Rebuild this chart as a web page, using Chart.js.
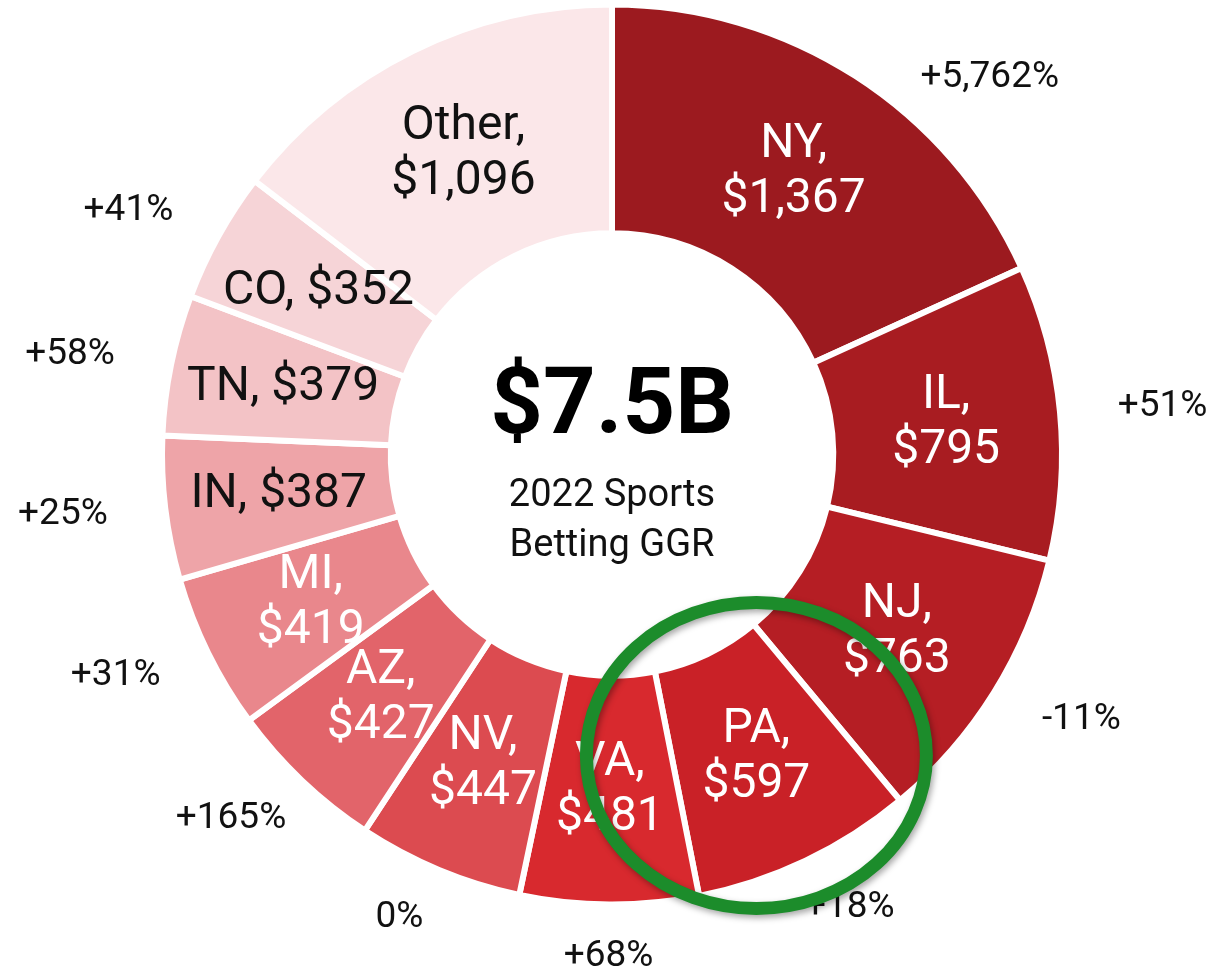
<!DOCTYPE html>
<html>
<head>
<meta charset="utf-8">
<title>2022 Sports Betting GGR</title>
<script src="https://cdn.jsdelivr.net/npm/chart.js@4.4.0/dist/chart.umd.min.js"></script>
<style>
  body { margin: 0; background: #fff; }
  #wrap { width: 1212px; height: 969px; }
</style>
</head>
<body>
<div id="wrap"><canvas id="ggr-chart" width="1212" height="969"></canvas></div>
<script>
// 2022 sports betting GGR by state ($M), clockwise from 12 o'clock
const states = ["NY", "IL", "NJ", "PA", "VA", "NV", "AZ", "MI", "IN", "TN", "CO", "Other"];
const ggr = [1367, 795, 763, 597, 481, 447, 427, 419, 387, 379, 352, 1096];
const growth = ["+5,762%", "+51%", "-11%", "+18%", "+68%", "0%", "+165%", "+31%", "+25%", "+58%", "+41%", ""];
const sliceColors = ["#9c1a1f", "#a81c21", "#b51e24", "#c92127", "#d8292e", "#dc4b50", "#e2646a", "#e9878c", "#eea4a8", "#f3c3c6", "#f6d4d7", "#fbe7e9"];
const singleLine = ["IN", "TN", "CO"];   // short labels that fit on one line
const highlight = "PA";                   // circled in green
const centerTitle = "$7.5B";
const centerSub = ["2022 Sports", "Betting GGR"];

const FONT = "Roboto, 'Liberation Sans', sans-serif";

// pick black or white text for a slice colour
function isLight(hex) {
    const r = parseInt(hex.slice(1, 3), 16);
    const g = parseInt(hex.slice(3, 5), 16);
    const b = parseInt(hex.slice(5, 7), 16);
    return (0.299 * r + 0.587 * g + 0.114 * b) > 165;
}

const labelPlugin = {
    id: "ggrLabels",
    afterDatasetsDraw(chart) {
        const ctx = chart.ctx;
        const arcs = chart.getDatasetMeta(0).data;
        const cx = arcs[0].x, cy = arcs[0].y, R = arcs[0].outerRadius;

        ctx.save();
        ctx.textAlign = "center";
        ctx.textBaseline = "middle";

        arcs.forEach((arc, i) => {
            const mid = (arc.startAngle + arc.endAngle) / 2;
            const r = (arc.innerRadius + arc.outerRadius) / 2;
            const x = cx + r * Math.cos(mid);
            const y = cy + r * Math.sin(mid);
            const amount = "$" + ggr[i].toLocaleString("en-US");

            // label inside the slice
            ctx.fillStyle = isLight(sliceColors[i]) ? "#111" : "#fff";
            ctx.font = `48px ${FONT}`;
            if (singleLine.includes(states[i])) {
                ctx.fillText(`${states[i]}, ${amount}`, x, y);
            } else {
                ctx.fillText(`${states[i]},`, x, y - 27);
                ctx.fillText(amount, x, y + 28);
            }

            // year-over-year growth outside the ring
            if (growth[i]) {
                const rx = R + 103, ry = R + 52;
                let a = mid;
                let ox = cx + rx * Math.cos(a);
                let oy = cy + ry * Math.sin(a);
                if (oy < 78) {
                    // slide along the ellipse so the label stays on the canvas
                    const s = Math.asin((78 - cy) / ry);
                    a = Math.cos(mid) >= 0 ? s : Math.PI - s;
                    ox = cx + rx * Math.cos(a) + 12;
                    oy = cy + ry * Math.sin(a);
                }
                ctx.fillStyle = "#111";
                ctx.font = `37px ${FONT}`;
                ctx.fillText(growth[i], ox, oy);
            }
        });

        // centre total
        ctx.fillStyle = "#000";
        ctx.font = `bold 92px ${FONT}`;
        ctx.fillText(centerTitle, cx, cy - 45);
        ctx.font = `38px ${FONT}`;
        ctx.fillStyle = "#111";
        ctx.fillText(centerSub[0], cx, cy + 42);
        ctx.fillText(centerSub[1], cx, cy + 92);

        // green circle round the highlighted state
        const hl = arcs[states.indexOf(highlight)];
        const hm = (hl.startAngle + hl.endAngle) / 2;
        const hr = (hl.innerRadius + hl.outerRadius) / 2;
        ctx.shadowColor = "rgba(0,0,0,0.35)";
        ctx.shadowBlur = 6;
        ctx.shadowOffsetX = 2;
        ctx.shadowOffsetY = 3;
        ctx.strokeStyle = "#1c8c2b";
        ctx.lineWidth = 13;
        ctx.beginPath();
        ctx.ellipse(cx + hr * Math.cos(hm), cy + hr * Math.sin(hm) - 2, 170, 153, 0, 0, Math.PI * 2);
        ctx.stroke();
        ctx.restore();
    }
};

const ctx = document.getElementById("ggr-chart").getContext("2d");
new Chart(ctx, {
    type: "doughnut",
    data: {
        labels: states,
        datasets: [{
            data: ggr,
            backgroundColor: sliceColors,
            borderColor: "#fff",
            borderWidth: 6,
            hoverOffset: 0
        }]
    },
    options: {
        responsive: false,
        animation: false,
        events: [],
        radius: 450,
        cutout: 222,
        layout: { padding: { left: 12, bottom: 60 } },
        plugins: {
            legend: { display: false },
            tooltip: { enabled: false }
        }
    },
    plugins: [labelPlugin]
});
</script>
</body>
</html>
